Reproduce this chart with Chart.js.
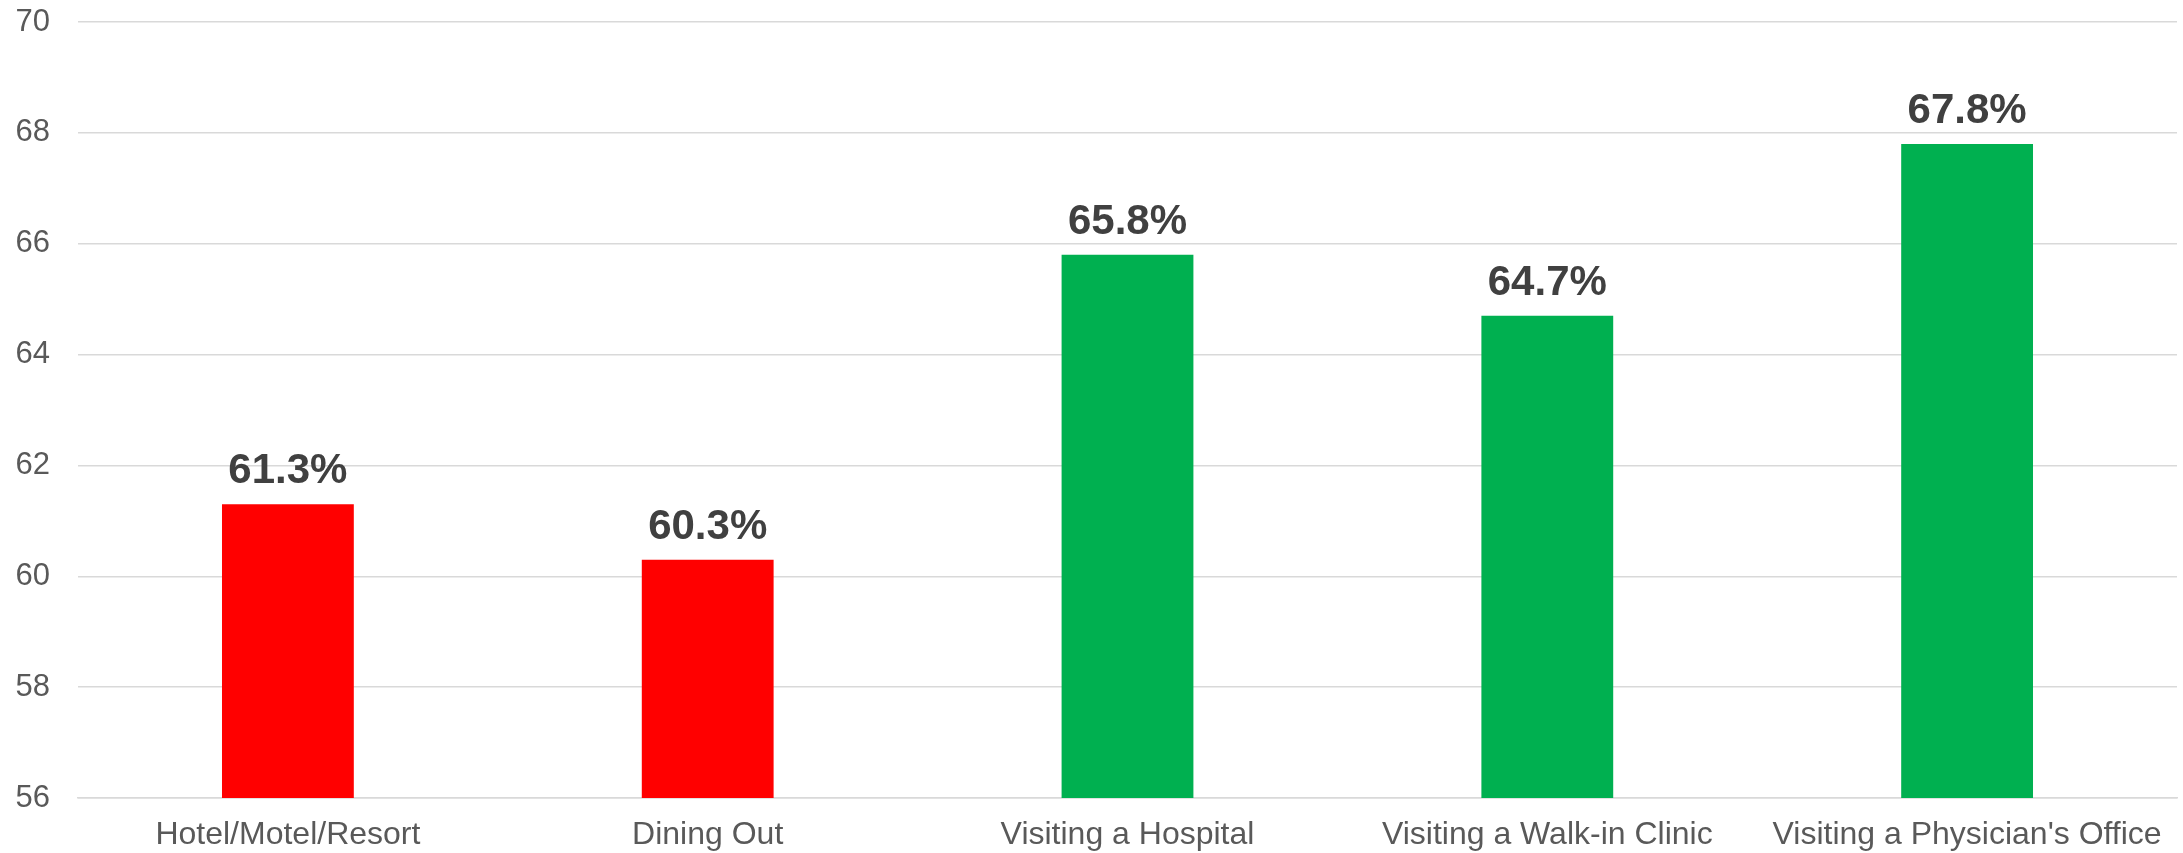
<!DOCTYPE html>
<html>
<head>
<meta charset="utf-8">
<title>Share by venue</title>
<script src="https://cdn.jsdelivr.net/npm/chart.js@4.4.1/dist/chart.umd.min.js"></script>
<style>
  html, body { margin: 0; padding: 0; background: #ffffff; }
  #wrap { position: relative; width: 2183px; height: 853px; }
</style>
</head>
<body>
<div id="wrap"><canvas id="venueChart"></canvas></div>
<script>
// Venue categories and their percentages
const categories = ['Hotel/Motel/Resort', 'Dining Out', 'Visiting a Hospital', 'Visiting a Walk-in Clinic', "Visiting a Physician's Office"];
const values = [61.3, 60.3, 65.8, 64.7, 67.8];
const barColors = ['#FF0000', '#FF0000', '#00B050', '#00B050', '#00B050'];
const yTicks = [56, 58, 60, 62, 64, 66, 68, 70];

Chart.defaults.font.family = "'Liberation Sans', Arial, sans-serif";
Chart.defaults.color = '#595959';

// Draws the bold percentage over each bar
const valueLabels = {
  id: 'valueLabels',
  afterDatasetsDraw(chart) {
    const ctx = chart.ctx;
    const meta = chart.getDatasetMeta(0);
    ctx.save();
    ctx.font = "bold 42px 'Liberation Sans', Arial, sans-serif";
    ctx.fillStyle = '#404040';
    ctx.textAlign = 'center';
    ctx.textBaseline = 'alphabetic';
    meta.data.forEach((bar, i) => {
      ctx.fillText(values[i].toFixed(1) + '%', bar.x, bar.y - 21);
    });
    ctx.restore();
  }
};

const venueChart = new Chart(document.getElementById('venueChart'), {
  type: 'bar',
  data: {
    labels: categories,
    datasets: [{
      data: values,
      backgroundColor: barColors,
      borderWidth: 0,
      categoryPercentage: 1,
      barPercentage: 0.314
    }]
  },
  options: {
    responsive: true,
    maintainAspectRatio: false,
    animation: false,
    layout: { padding: { top: 0, right: 6, left: 0, bottom: 0 } },
    plugins: {
      legend: { display: false },
      tooltip: { enabled: false }
    },
    scales: {
      x: {
        grid: { display: false, drawTicks: false },
        border: { display: true, color: '#d9d9d9', width: 1.5 },
        ticks: {
          color: '#595959',
          font: { size: 32 },
          padding: 18,
          maxRotation: 0,
          autoSkip: false
        },
        afterFit(scale) { scale.height = 55; }
      },
      y: {
        min: 56,
        max: 70,
        afterBuildTicks(scale) { scale.ticks = yTicks.map(v => ({ value: v })); },
        grid: { color: '#d9d9d9', lineWidth: 1.5, drawTicks: false },
        border: { display: false },
        ticks: {
          color: '#595959',
          font: { size: 31 },
          padding: 28
        },
        afterFit(scale) {
          scale.width = 78;
          scale.paddingTop = 22;
        }
      }
    }
  },
  plugins: [valueLabels]
});
</script>
</body>
</html>
